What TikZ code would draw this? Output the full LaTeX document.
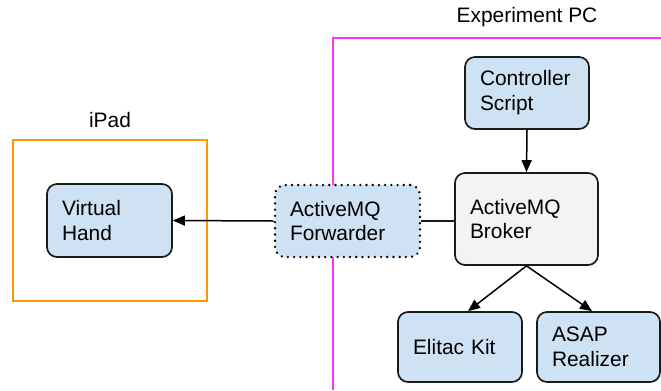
\documentclass[tikz,border=0pt]{standalone}
\usepackage{fontspec}
\setmainfont{Liberation Sans}
\usetikzlibrary{arrows.meta}
\definecolor{boxblue}{HTML}{CFE2F3}
\definecolor{boxgray}{HTML}{F3F3F3}
\definecolor{edge}{HTML}{1A1A1A}
\definecolor{ipadorange}{HTML}{FF9900}
\definecolor{pcpink}{HTML}{FF33FF}
\tikzset{
  comp/.style={draw=edge, line width=1.7bp, rounded corners=10bp, fill=boxblue,
    inner xsep=15bp, inner ysep=0bp, align=left,
    font=\fontsize{21}{25}\selectfont},
  arr/.style={draw=black, line width=1.5bp, -{Triangle[length=12bp,width=10bp]}},
  link/.style={draw=edge, line width=1.5bp},
  lbl/.style={font=\fontsize{21}{25}\selectfont, inner sep=0pt}
}
\begin{document}
\begin{tikzpicture}[x=1bp,y=-1bp]
\useasboundingbox (0,0) rectangle (661,390);
% frames
\draw[ipadorange, line width=2bp] (13,140) rectangle (207,301);
\draw[pcpink, line width=2bp] (661,38) -- (333,38) -- (333,390);
\node[lbl] (ipadlbl) at (110,120) {iPad};
\node[lbl] (pclbl) at (527,17) {Experiment PC};
% components
\node[comp, text width=95bp, minimum height=73bp] (VH) at (109.5,220.5) {Virtual\\Hand};
\node[comp, text width=94bp, minimum height=72bp] (CS) at (527,93) {Controller\\Script};
\node[comp, fill=boxgray, text width=113bp, minimum height=92bp] (BR) at (526.5,219) {ActiveMQ\\Broker};
\node[comp, text width=94bp, minimum height=70bp] (EK) at (460,347) {Elitac Kit};
\node[comp, text width=93bp, minimum height=70bp] (AR) at (598.5,347) {ASAP\\Realizer};
\node[comp, draw=black, line width=2.6bp, dash pattern=on 0.01bp off 6.2bp, line cap=round,
  text width=115bp, minimum height=72bp] (FW) at (347.5,221) {ActiveMQ\\Forwarder};
% links
\draw[link] (FW.east) -- (FW.east -| BR.west);
\draw[arr] (FW.west) -- (VH.east);
\draw[arr] (CS.south) -- (BR.north);
\draw[arr] (BR.south) -- ([xshift=8bp]EK.north);
\draw[arr] (BR.south) -- ([xshift=-6.5bp]AR.north);
\end{tikzpicture}
\end{document}
